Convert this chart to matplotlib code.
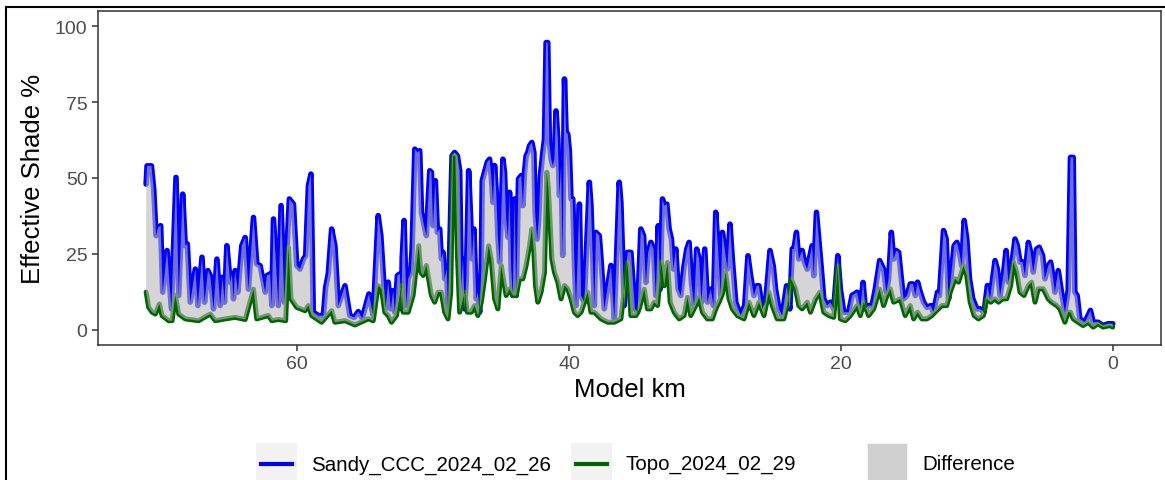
import numpy as np
import matplotlib.pyplot as plt
from matplotlib.patches import Rectangle
from matplotlib.lines import Line2D

plt.rcParams['font.family'] = ['Liberation Sans', 'DejaVu Sans']

# Sandy_CCC_2024_02_26 (km, effective shade %)
sandy_km = [
    71.12, 71.05, 70.73, 70.56, 70.39, 70.24, 70.05, 69.90, 69.58, 69.26,
    68.92, 68.72, 68.43, 68.24, 68.09, 67.87, 67.50, 67.31, 67.01, 66.82,
    66.57, 66.40, 66.16, 65.91, 65.67, 65.50, 65.35, 65.18, 64.93, 64.81,
    64.69, 64.57, 64.37, 64.08, 63.83, 63.59, 63.22, 62.98, 62.73, 62.36,
    62.24, 62.00, 61.87, 61.75, 61.39, 61.19, 60.95, 60.85, 60.58, 60.28,
    60.04, 59.80, 59.55, 59.38, 59.18, 58.99, 58.82, 58.45, 58.08, 57.91,
    57.72, 57.47, 57.23, 56.98, 56.49, 56.13, 55.81, 55.51, 55.22, 54.73,
    54.41, 54.05, 53.85,
    53.68, 53.51, 53.31, 53.11, 52.94, 52.82, 52.63, 52.45, 52.33, 52.28,
    52.14, 51.97, 51.84, 51.65, 51.55, 51.35, 51.16, 50.99, 50.86, 50.67,
    50.50, 50.25, 50.13, 50.01, 49.84, 49.69, 49.52, 49.40, 49.27, 49.15,
    49.00, 48.91, 48.78, 48.61, 48.42, 48.22, 48.05, 47.93, 47.81, 47.68,
    47.56, 47.39, 47.24, 47.15, 47.00, 46.83, 46.71, 46.58, 46.46, 46.39,
    46.22, 46.02, 45.85, 45.73, 45.60, 45.48, 45.36, 45.24, 45.11, 44.99,
    44.87, 44.75, 44.63, 44.50, 44.38, 44.26, 44.14, 44.01, 43.89, 43.72,
    43.52, 43.40, 43.28, 43.16, 43.04, 42.91, 42.74, 42.59, 42.50, 42.35,
    42.23, 42.11, 41.93, 41.81, 41.69, 41.57, 41.45, 41.32, 41.20, 41.08,
    40.96, 40.83, 40.71, 40.59, 40.47, 40.34, 40.22, 40.10, 39.98, 39.86,
    39.73, 39.61, 39.49, 39.24, 39.12, 38.88, 38.51, 38.39, 38.14, 38.02,
    37.78, 37.65, 37.41, 36.92, 36.67, 36.31, 36.19, 35.94, 35.70,
    35.45, 35.16, 34.96, 34.72, 34.52, 34.35, 34.18, 33.98, 33.79, 33.62,
    33.44, 33.30, 33.13, 33.00, 32.81, 32.64, 32.47, 32.32, 32.15, 31.98,
    31.78, 31.54, 31.34, 31.17, 31.00, 30.80, 30.61, 30.43, 30.26, 30.02,
    29.82, 29.58, 29.38, 29.21, 29.04, 28.84, 28.72, 28.55, 28.36, 28.16,
    27.99, 27.74, 27.38, 27.08, 26.84, 26.64, 26.40, 26.20, 26.03, 25.79,
    25.54, 25.22, 24.98, 24.81, 24.56, 24.32, 24.00, 23.76, 23.58, 23.46,
    23.27, 23.10, 22.85, 22.68, 22.48, 22.12, 22.00, 21.80, 21.63, 21.46,
    21.26, 21.02, 20.77, 20.53, 20.23, 20.04, 19.79, 19.43, 19.18, 18.81,
    18.57, 18.37, 18.20, 17.96, 17.71, 17.47, 17.15,
    16.86, 16.66, 16.49, 16.29, 16.12, 15.93, 15.75, 15.58, 15.39, 15.14,
    14.90, 14.70, 14.53, 14.36, 14.16, 13.92, 13.67, 13.38, 13.19, 12.89,
    12.75, 12.45, 12.26, 12.08, 11.84, 11.67, 11.47, 11.28, 11.11, 10.93,
    10.74, 10.54, 10.30, 10.00, 9.76, 9.47, 9.22, 9.03, 8.66, 8.49,
    8.29, 8.05, 7.85, 7.68, 7.44, 7.19, 7.02, 6.82, 6.63, 6.46,
    6.21, 6.04, 5.85, 5.60, 5.41, 5.16, 4.99, 4.75, 4.57, 4.38,
    4.26, 4.01, 3.77, 3.52, 3.28, 3.11, 2.91, 2.79, 2.62, 2.42,
    2.05, 1.64, 1.44, 1.08, 0.71, 0.34, 0.0,
]
sandy_shade = [
    48.0, 54.0, 54.0, 46.3, 31.0, 33.7, 34.3, 12.4, 26.1, 6.9,
    50.2, 11.3, 44.7, 27.7, 28.3, 9.1, 20.0, 8.0, 23.9, 9.1,
    19.5, 17.8, 6.9, 23.3, 8.0, 17.3, 9.1, 27.7, 15.6, 18.4,
    10.2, 19.5, 12.4, 27.7, 30.4, 13.4, 37.0, 21.7, 21.1, 12.4,
    17.8, 18.4, 8.0, 36.5, 8.0, 40.9, 9.1, 17.8, 43.1, 41.4,
    21.1, 20.0, 23.3, 24.4, 47.4, 51.3, 5.8, 4.7, 4.7, 14.0,
    18.4, 33.2, 27.7, 8.0, 14.5, 4.7, 4.1, 6.0, 3.8, 11.8,
    4.7, 37.6, 31.0,
    19.0, 6.9, 15.7, 6.9, 12.9, 5.8, 17.9, 18.4, 6.9, 23.4,
    36.0, 8.0, 16.8, 19.0, 26.6, 59.5, 58.4, 59.0, 38.7, 34.3,
    31.0, 52.4, 51.9, 34.3, 49.1, 32.1, 33.2, 23.4, 25.5, 16.8,
    20.1, 5.8, 26.6, 57.3, 58.4, 57.3, 52.4, 14.6, 23.4, 6.9,
    16.8, 52.4, 36.5, 23.4, 33.2, 10.2, 12.4, 5.8, 20.1, 49.1,
    51.9, 55.2, 56.2, 50.8, 42.0, 54.1, 45.3, 31.0, 22.3, 37.6,
    56.2, 51.9, 36.5, 30.5, 45.3, 20.1, 11.3, 43.1, 11.3, 49.7,
    50.8, 40.9, 51.9, 57.3, 58.4, 60.6, 61.7, 58.4, 38.7, 29.9,
    36.5, 50.8, 58.4, 62.8, 94.6, 94.6, 61.7, 56.2, 54.1, 56.2,
    72.1, 62.8, 44.2, 54.1, 24.5, 82.6, 65.0, 64.5, 59.0, 43.1,
    43.1, 22.3, 8.0, 41.4, 11.3, 9.1, 48.6, 40.9, 8.0, 32.1,
    31.0, 23.4, 6.9, 21.2, 3.6, 48.6, 42.0, 8.0, 25.5,
    25.5, 6.9, 5.8, 33.2, 31.0, 15.6, 25.5, 28.8, 26.6, 11.3,
    34.3, 13.4, 43.1, 40.9, 41.4, 33.2, 29.9, 20.0, 26.6, 13.4,
    11.3, 21.1, 26.6, 28.8, 15.6, 8.0, 26.6, 23.3, 9.1, 26.6,
    9.1, 13.4, 8.0, 38.7, 26.6, 11.3, 32.1, 26.6, 20.0, 34.8,
    23.3, 9.1, 4.7, 8.0, 24.4, 17.8, 11.3, 14.5, 14.5, 6.9,
    9.1, 26.1, 21.1, 13.4, 6.9, 4.7, 14.5, 6.9, 26.6, 26.6,
    32.1, 23.3, 26.1, 22.2, 20.0, 27.7, 17.8, 38.7, 29.9, 21.1,
    10.2, 8.0, 9.1, 6.9, 24.4, 13.4, 5.8, 5.8, 11.3, 12.4,
    6.9, 15.6, 6.9, 8.0, 8.0, 13.4, 22.8,
    20.0, 12.4, 16.8, 32.1, 23.3, 26.1, 25.5, 17.9, 10.2, 11.3,
    15.1, 15.1, 11.3, 15.7, 12.4, 9.1, 7.4, 8.0, 5.8, 12.4,
    11.3, 32.7, 29.9, 10.2, 20.0, 27.7, 28.8, 25.5, 21.1, 36.0,
    29.9, 16.8, 10.2, 6.9, 6.9, 5.8, 14.6, 10.2, 22.8, 20.0,
    11.3, 17.9, 26.1, 15.7, 21.1, 29.9, 27.7, 22.3, 22.3, 17.9,
    28.8, 25.5, 19.0, 26.6, 27.2, 24.4, 16.8, 21.1, 22.3, 16.8,
    12.4, 19.5, 12.4, 5.8, 12.9, 56.8, 56.8, 12.4, 11.3, 3.6,
    2.5, 6.4, 2.5, 2.5, 1.4, 2.0, 2.0,
]

# Topo_2024_02_29 (km, effective shade %)
topo_km = [
    71.12, 70.93, 70.68, 70.44, 70.14, 69.95, 69.46, 69.21, 68.97, 68.72,
    68.24, 67.26, 66.40, 66.03, 65.30, 64.57, 63.83, 63.22, 62.98, 62.12,
    61.87, 61.39, 60.85, 60.65, 60.46, 60.04, 59.43, 59.18, 58.94, 58.21,
    57.47, 57.23, 56.49, 55.76, 54.78, 54.41, 54.05,
    53.80, 53.56, 53.31, 53.07, 52.70, 52.33, 52.21, 51.84, 51.48, 51.23,
    51.06, 50.91, 50.74, 50.50, 50.25, 50.13, 49.89, 49.64, 49.40, 49.15,
    48.91, 48.71, 48.54, 48.37, 48.22, 48.05, 47.68, 47.49, 47.19, 46.95,
    46.71, 46.46, 46.22, 45.92, 45.73, 45.48, 45.24, 44.99, 44.80, 44.63,
    44.38, 44.14, 43.89, 43.65, 43.40, 43.16, 42.91, 42.74, 42.59, 42.47,
    42.30, 42.06, 41.81, 41.64, 41.52, 41.37, 41.27, 41.08, 40.83, 40.59,
    40.34, 40.10, 39.86, 39.61, 39.37, 39.12, 38.63, 38.39, 38.14, 37.65,
    37.16, 36.67, 36.19, 35.70,
    35.45, 35.08, 34.84, 34.47, 34.23, 33.98, 33.74, 33.49, 33.20, 33.00,
    32.76, 32.56, 32.27, 31.90, 31.54, 31.29, 31.05, 30.68, 30.43, 30.19,
    29.82, 29.46, 29.21, 28.97, 28.72, 28.48, 28.23, 27.99, 27.62, 27.13,
    26.77, 26.40, 26.03, 25.66, 25.30, 25.05, 24.69, 24.20, 23.95, 23.66,
    23.34, 23.10, 22.85, 22.48, 22.24, 21.87, 21.55, 21.26, 20.89, 20.53,
    20.23, 20.04, 19.67, 19.30, 18.81, 18.57, 18.32, 17.96, 17.59, 17.15,
    16.86, 16.61, 16.37, 16.12, 15.88, 15.63, 15.27, 14.90, 14.65, 14.36,
    14.04, 13.67, 13.31, 12.94, 12.57, 12.21, 11.96, 11.60, 11.35, 10.98,
    10.74, 10.49, 10.20, 9.88, 9.52, 9.27, 8.98, 8.66, 8.41, 8.10,
    7.80, 7.51, 7.31, 7.07, 6.82, 6.53, 6.21, 5.97, 5.72, 5.48,
    5.11, 4.75, 4.50, 4.13, 3.89, 3.52, 3.28, 3.11, 2.91, 2.54,
    2.18, 1.81, 1.44, 1.08, 0.71, 0.22, 0.0,
]
topo_shade = [
    12.4, 7.4, 5.8, 5.2, 8.5, 4.7, 3.0, 3.0, 11.3, 5.2,
    3.6, 3.0, 5.2, 3.0, 3.6, 4.1, 3.4, 13.4, 3.6, 4.7,
    3.0, 3.4, 3.0, 27.2, 10.2, 7.4, 6.3, 8.0, 4.7, 2.5,
    6.3, 2.5, 3.0, 1.6, 3.6, 3.0, 14.5,
    13.5, 5.8, 4.7, 2.5, 4.7, 14.6, 5.8, 5.8, 11.3, 21.2,
    27.7, 19.0, 17.9, 21.2, 14.6, 11.3, 9.1, 12.4, 12.4, 5.8,
    3.6, 12.4, 57.3, 57.3, 25.5, 5.8, 12.4, 5.8, 5.8, 8.0,
    4.7, 9.1, 16.8, 27.7, 23.4, 10.2, 6.9, 21.2, 15.7, 11.3,
    13.5, 11.3, 11.3, 16.8, 16.8, 21.2, 27.7, 33.2, 25.5, 14.6,
    9.1, 12.4, 19.0, 51.9, 46.4, 33.2, 23.4, 19.0, 15.7, 10.2,
    14.6, 13.5, 10.2, 5.8, 4.7, 5.8, 12.4, 5.8, 5.8, 3.6,
    2.5, 2.5, 3.6, 22.3,
    4.7, 4.7, 6.9, 13.4, 6.9, 6.9, 9.1, 8.0, 22.2, 14.5,
    22.2, 9.1, 5.8, 3.6, 4.7, 10.7, 4.7, 8.0, 10.7, 5.8,
    3.6, 3.6, 6.9, 9.1, 11.8, 18.9, 10.2, 6.9, 4.7, 3.6,
    9.1, 4.7, 9.1, 4.7, 12.4, 8.0, 3.6, 3.6, 8.0, 16.7,
    13.4, 8.0, 6.9, 9.1, 5.8, 10.2, 12.4, 5.8, 4.7, 4.1,
    21.1, 3.6, 3.0, 4.7, 8.0, 4.7, 9.1, 4.7, 6.9, 13.4,
    8.0, 11.3, 13.5, 9.1, 9.6, 10.2, 4.7, 8.0, 3.6, 5.8,
    3.6, 3.6, 4.7, 6.4, 8.0, 8.0, 12.4, 16.8, 15.7, 21.1,
    17.9, 9.1, 4.7, 3.6, 4.7, 10.2, 9.1, 10.2, 9.1, 10.2,
    10.2, 14.6, 22.3, 19.0, 12.4, 11.3, 14.6, 15.7, 9.1, 13.5,
    13.5, 10.2, 9.1, 8.0, 6.9, 2.5, 5.8, 5.8, 3.6, 2.5,
    1.4, 2.5, 0.9, 2.0, 0.9, 1.4, 0.9,
]

y_ticks = [0, 25, 50, 75, 100]
x_ticks = [0, 20, 40, 60]
labels = ['Sandy_CCC_2024_02_26', 'Topo_2024_02_29', 'Difference']

W, H = 1165, 481
fig = plt.figure(figsize=(W / 100, H / 100), dpi=100)
ax = fig.add_axes([98 / W, 1 - 346 / H, (1161 - 98) / W, (346 - 12) / H])

ax.plot(sandy_km, sandy_shade, color='#0000FF', lw=4.0,
        solid_joinstyle='round', solid_capstyle='round', zorder=2)
ax.plot(topo_km, topo_shade, color='#006400', lw=3.6,
        solid_joinstyle='round', solid_capstyle='round', zorder=2.1)
# ribbon between the two series, drawn on top with transparency
ax.fill(np.concatenate([sandy_km, topo_km[::-1]]),
        np.concatenate([sandy_shade, topo_shade[::-1]]),
        color='#BABABA', alpha=0.6, lw=0, zorder=2.2)

ax.set_xlim(74.66, -3.55)
ax.set_ylim(-5, 105)
ax.set_xticks(x_ticks)
ax.set_yticks(y_ticks)
ax.tick_params(labelsize=14, labelcolor='#4D4D4D', color='#333333',
               length=4.5, width=1.1, pad=3)
for s in ax.spines.values():
    s.set_color('#333333')
    s.set_linewidth(1.1)
ax.set_xlabel('Model km', fontsize=18.5, labelpad=3)
ax.set_ylabel('Effective Shade %', fontsize=18.5, labelpad=7)

# outer plot frame
fig.add_artist(Rectangle((6 / W, -0.1), 1.2, 1 - 8 / H + 0.1,
                         transform=fig.transFigure, fill=False,
                         ec='black', lw=1.5))


# legend at the bottom (key backgrounds like ggplot)
def fx(x):
    return x / W


def fy(y):
    return 1 - y / H


key_x = [256, 571, 867]
key_w = 41
ly = 465
for i, lab in enumerate(labels):
    x0 = key_x[i]
    fig.add_artist(Rectangle((fx(x0), fy(490)), key_w / W, 46 / H,
                             transform=fig.transFigure, fc='#F2F2F2',
                             ec='none'))
    if i < 2:
        col = ['#0000FF', '#006400'][i]
        fig.add_artist(Line2D([fx(x0 + 5), fx(x0 + 36)], [fy(ly), fy(ly)],
                              transform=fig.transFigure, color=col, lw=3))
    else:
        fig.add_artist(Rectangle((fx(x0 + 1), fy(490)), (key_w - 2) / W,
                                 45 / H, transform=fig.transFigure,
                                 fc='#BABABA', alpha=0.6, ec='none'))
    fig.text(fx(x0 + 55), fy(ly), lab, fontsize=14.8,
             va='center', ha='left')

fig.savefig('out.png', dpi=100)
